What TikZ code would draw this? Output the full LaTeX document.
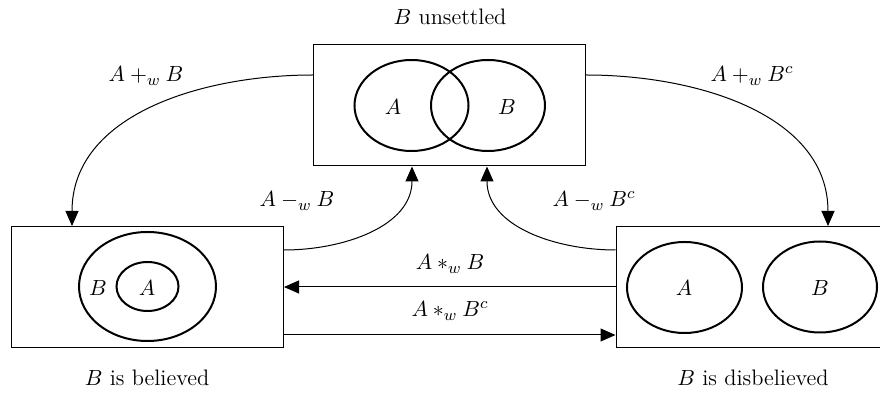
\documentclass[tikz,border=0pt]{standalone}
\usepackage{tikz}
\usepackage{amsmath}
\usetikzlibrary{arrows.meta}

\begin{document}
\begin{tikzpicture}[x=0.5pt, y=-0.5pt,
  every node/.style={font=\fontsize{11.2pt}{13pt}\selectfont},
  statebox/.style={draw, line width=0.5pt, minimum width=136pt, minimum height=60.5pt, inner sep=0pt},
  venn/.style={line width=1pt},
  link/.style={line width=0.5pt, -{Triangle[length=7.5pt,width=6.5pt]}}]
  \useasboundingbox (0,0) rectangle (880,394);
  %% Three states
  \node[statebox] (unsettled) at (449.5,105.5) {};
  \node[statebox] (believed) at (147.5,287) {};
  \node[statebox] (disbelieved) at (752,287) {};
  \node (unsettledlab) at (450,17) {$B$ unsettled};
  \node (believedlab) at (147,378) {$B$ is believed};
  \node (disbelievedlab) at (753,378) {$B$ is disbelieved};

  %% Venn pictures
  \draw[venn] (411.5,105.5) ellipse [x radius=28.5pt, y radius=22.75pt];
  \draw[venn] (488,105.5) ellipse [x radius=28.5pt, y radius=22.75pt];
  \node (ua) at (393,107) {$A$};
  \node (ub) at (507,107) {$B$};

  \draw[venn] (147.5,286.5) ellipse [x radius=34.25pt, y radius=27.25pt];
  \draw[venn] (147.5,286.5) ellipse [x radius=15.5pt, y radius=12.25pt];
  \node (bb) at (98,288) {$B$};
  \node (ba) at (147,288) {$A$};

  \draw[venn] (684.5,287.5) ellipse [x radius=28.75pt, y radius=22.75pt];
  \draw[venn] (820,287) ellipse [x radius=28.5pt, y radius=22.75pt];
  \node (da) at (684,288) {$A$};
  \node (db) at (820,288) {$B$};

  %% Revisions
  \draw[link] ([yshift=15.25pt]unsettled.west) to[out=180, in=90] ([xshift=-37.75pt]believed.north);
  \draw[link] ([yshift=15.25pt]unsettled.east) to[out=0, in=90] ([xshift=38pt]disbelieved.north);
  \draw[link] ([yshift=18.5pt]believed.east) to[out=0, in=-90] ([xshift=-18.75pt]unsettled.south);
  \draw[link] ([yshift=18.5pt]disbelieved.west) to[out=180, in=-90] ([xshift=18.75pt]unsettled.south);
  \draw[link] (disbelieved.west) -- (believed.east);
  \draw[link] ([yshift=-24pt]believed.east) -- ([yshift=-24pt]disbelieved.west);

  \node (plusb) at (146,76) {$A \mathbin{+_w} B$};
  \node (plusbc) at (752,76) {$A \mathbin{+_w} B^c$};
  \node (minusb) at (297,201) {$A \mathbin{-_w} B$};
  \node (minusbc) at (594,201) {$A \mathbin{-_w} B^c$};
  \node (starb) at (450,264) {$A \mathbin{\ast_w} B$};
  \node (starbc) at (450,311) {$A \mathbin{\ast_w} B^c$};
\end{tikzpicture}
\end{document}
